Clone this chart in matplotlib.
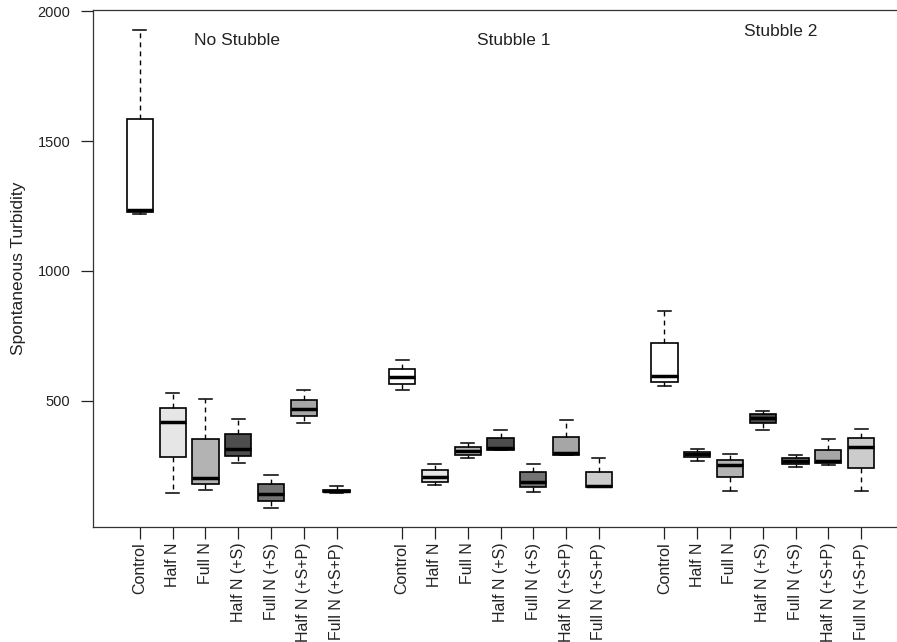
import matplotlib.pyplot as plt

plt.rcParams['font.family'] = ['Liberation Sans', 'DejaVu Sans']

treatments = ['Control', 'Half N', 'Full N', 'Half N (+S)', 'Full N (+S)',
              'Half N (+S+P)', 'Full N (+S+P)']
groups = ['No Stubble', 'Stubble 1', 'Stubble 2']
fills = ['#ffffff', '#e6e6e6', '#b3b3b3', '#4d4d4d', '#737373', '#a6a6a6', '#cccccc']

# five-number summaries: min, Q1, median, Q3, max
no_stubble = [
    [1220, 1228, 1235, 1583, 1928],
    [146, 285, 420, 474, 532],
    [159, 181, 204, 354, 509],
    [262, 287, 315, 374, 431],
    [90, 114, 141, 181, 215],
    [414, 443, 470, 505, 543],
    [145, 148, 152, 158, 172],
]
stubble_1 = [
    [543, 565, 591, 622, 656],
    [176, 187, 209, 233, 258],
    [281, 292, 308, 323, 340],
    [311, 312, 320, 359, 388],
    [149, 167, 190, 225, 258],
    [292, 293, 298, 363, 428],
    [167, 170, 173, 228, 281],
]
stubble_2 = [
    [556, 574, 595, 722, 846],
    [270, 286, 296, 305, 314],
    [154, 207, 254, 274, 296],
    [388, 414, 433, 449, 462],
    [246, 258, 268, 280, 292],
    [255, 260, 270, 310, 355],
    [154, 241, 324, 359, 393],
]
positions = [1, 2, 3, 4, 5, 6, 7, 9, 10, 11, 12, 13, 14, 15, 17, 18, 19, 20, 21, 22, 23]
label_xy = [(3.96, 1888), (12.4, 1888), (20.55, 1923)]


def main():
    fig = plt.figure(figsize=(8.97, 6.42), dpi=100)
    ax = fig.add_axes([93 / 897, 115 / 642, 815 / 897, 517 / 642])

    stats = []
    for grp in (no_stubble, stubble_1, stubble_2):
        for lo, q1, med, q3, hi in grp:
            stats.append(dict(whislo=lo, q1=q1, med=med, q3=q3, whishi=hi, fliers=[]))

    bp = ax.bxp(stats, positions=positions, widths=0.8, capwidths=0.4,
                patch_artist=True, showfliers=False,
                boxprops=dict(edgecolor='black', linewidth=1.2),
                medianprops=dict(color='black', linewidth=2.5, solid_capstyle='butt'),
                whiskerprops=dict(color='black', linewidth=1.0, linestyle=(0, (3.5, 3))),
                capprops=dict(color='black', linewidth=1.1))
    for i, box in enumerate(bp['boxes']):
        box.set_facecolor(fills[i % 7])

    for name, (x, y) in zip(groups, label_xy):
        ax.text(x, y, name, ha='center', va='center', fontsize=12.5, color='#222222')

    ax.set_xlim(-0.43, 24.43)
    ax.set_ylim(15, 2004)
    ax.set_yticks([500, 1000, 1500, 2000])
    ax.set_xticks(positions)
    ax.set_xticklabels(treatments * 3, rotation=90, fontsize=11.5)
    ax.tick_params(axis='y', length=8.3, width=0.9, pad=8, labelsize=10.5, colors='#222222')
    ax.tick_params(axis='x', length=8.3, width=0.9, pad=3, colors='#222222')
    for sp in ax.spines.values():
        sp.set_color('#333333')
        sp.set_linewidth(0.9)
    ax.set_ylabel('Spontaneous Turbidity', fontsize=12.5, color='#222222')
    ax.yaxis.set_label_coords(-0.082, 0.5)

    fig.savefig('out.png', dpi=100)


if __name__ == '__main__':
    main()
